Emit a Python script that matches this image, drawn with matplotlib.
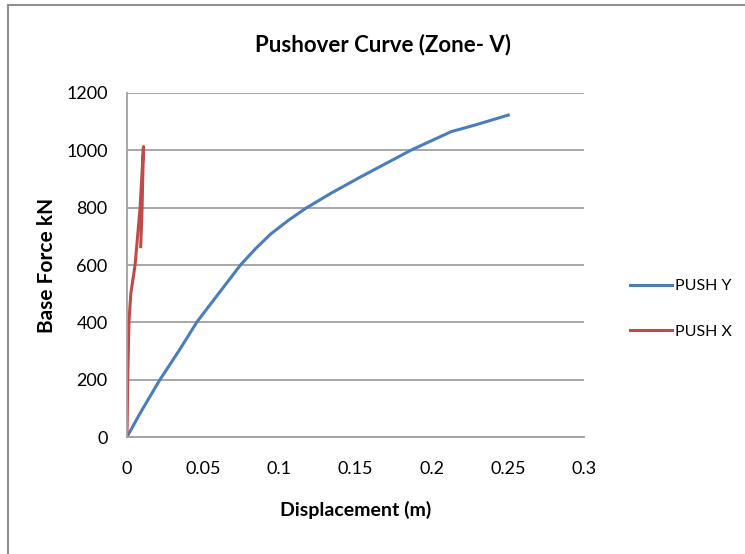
import matplotlib.pyplot as plt
from matplotlib.patches import Rectangle

# Pushover curve data
push_y_disp = [0, 0.0086, 0.0215, 0.034, 0.046, 0.0569, 0.0745, 0.0844, 0.0943, 0.106,
               0.1174, 0.1338, 0.1536, 0.1866, 0.2127, 0.2283, 0.2503]
push_y_force = [0, 83, 199, 300, 402, 478, 600, 657, 708, 756,
                798, 850, 908, 1001, 1065, 1088, 1123]

push_x_disp = [0, 0.0005, 0.0013, 0.0025, 0.0053, 0.0086, 0.0108, 0.0099, 0.009]
push_x_force = [0, 210, 402, 500, 600, 800, 1013, 800, 664]

xticks = [0, 0.05, 0.1, 0.15, 0.2, 0.25, 0.3]
xtick_labels = ['0', '0.05', '0.1', '0.15', '0.2', '0.25', '0.3']
yticks = [0, 200, 400, 600, 800, 1000, 1200]

plt.rcParams['font.family'] = ['Lato', 'DejaVu Sans']

W, H = 745, 554
fig = plt.figure(figsize=(W / 100, H / 100), dpi=100)
ax = fig.add_axes([127 / W, 1 - 437 / H, (584 - 127) / W, (437 - 93) / H])

ax.plot(push_y_disp, push_y_force, color='#4a7ebb', lw=2.2, label='PUSH Y')
ax.plot(push_x_disp, push_x_force, color='#be4b48', lw=2.2, label='PUSH X')

ax.set_xlim(0, 0.3)
ax.set_ylim(0, 1200)
ax.set_xticks(xticks)
ax.set_xticklabels(xtick_labels)
ax.set_yticks(yticks)
ax.grid(axis='y', color='#a0a0a0', lw=1.3)
ax.set_axisbelow(True)
ax.tick_params(length=0, labelsize=13)
ax.tick_params(axis='x', pad=17)
ax.tick_params(axis='y', pad=14)
for s in ['top', 'right']:
    ax.spines[s].set_visible(False)
for s in ['left', 'bottom']:
    ax.spines[s].set_color('#a0a0a0')
    ax.spines[s].set_linewidth(1.3)

fig.text(383 / W, 1 - 45 / H, 'Pushover Curve (Zone- V)', fontsize=16, fontweight='bold',
         ha='center', va='center')
ax.set_xlabel('Displacement (m)', fontsize=14, fontweight='bold', va='center')
ax.xaxis.set_label_coords(0.5, -(510 - 437) / 344)
ax.set_ylabel('Base Force kN', fontsize=15, fontweight='bold', va='center')
ax.yaxis.set_label_coords(-(127 - 47) / 457, 0.5)

fig.legend(loc='center left', bbox_to_anchor=(630 / W, 1 - 309 / H), frameon=False,
           fontsize=11.5, handlelength=2.6, labelspacing=1.95, handletextpad=0.2,
           borderpad=0, borderaxespad=0)

# chart frame
fig.patches.append(Rectangle((8 / W, -0.2), 1.2, 1 - 5 / H + 0.2, transform=fig.transFigure,
                             fill=False, edgecolor='#909090', lw=1.5))

fig.savefig('out.png', dpi=100)
